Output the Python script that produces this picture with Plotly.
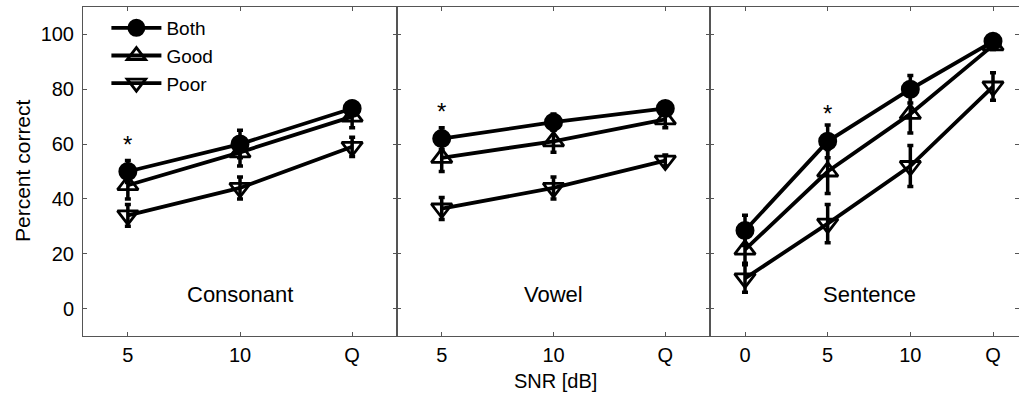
import plotly.graph_objects as go

# ---- data ----
snr_cv = ["5", "10", "Q"]
snr_s = ["0", "5", "10", "Q"]

cons_both = [50, 60, 73]
cons_both_err = [4, 5, 2.5]
cons_good = [45, 57, 70]
cons_good_err = [5, 5, 4]
cons_poor = [34, 44, 59]
cons_poor_err = [4, 4, 3.5]

vow_both = [62, 68, 73]
vow_both_err = [4, 3, 2]
vow_good = [55, 61, 69]
vow_good_err = [5, 4, 3]
vow_poor = [36.5, 44, 54]
vow_poor_err = [4, 4, 2]

sen_both = [28.5, 61, 80, 97.5]
sen_both_err = [5.5, 6, 5, 1.5]
sen_good = [21.5, 50, 71, 96]
sen_good_err = [5, 8, 7, 1.5]
sen_poor = [11, 31, 52, 81]
sen_poor_err = [5, 7, 7.5, 5]

series_names = ["Both", "Good", "Poor"]
panel_names = ["Consonant", "Vowel", "Sentence"]
star_idx = [0, 0, 1]          # category index of the "5 dB" condition
star_y = [60, 72, 71]

FONT = "Liberation Sans, Arial, sans-serif"
styles = {
    "Both": dict(symbol="circle", size=17, color="black", line=dict(color="black", width=2)),
    "Good": dict(symbol="triangle-up-open", size=18, color="black", line=dict(color="black", width=2.8)),
    "Poor": dict(symbol="triangle-down-open", size=18, color="black", line=dict(color="black", width=2.8)),
}

fig = go.Figure()

panels = [
    (snr_cv, [(cons_both, cons_both_err), (cons_good, cons_good_err), (cons_poor, cons_poor_err)]),
    (snr_cv, [(vow_both, vow_both_err), (vow_good, vow_good_err), (vow_poor, vow_poor_err)]),
    (snr_s, [(sen_both, sen_both_err), (sen_good, sen_good_err), (sen_poor, sen_poor_err)]),
]

for p, (xs, sers) in enumerate(panels):
    xa = "x" if p == 0 else f"x{p+1}"
    ya = "y" if p == 0 else f"y{p+1}"
    for name, (vals, errs) in reversed(list(zip(series_names, sers))):
        fig.add_trace(go.Scatter(
            x=xs, y=vals, xaxis=xa, yaxis=ya, name=name,
            mode="lines+markers",
            line=dict(color="black", width=3.8),
            marker=styles[name],
            error_y=dict(type="data", array=errs, visible=True, color="black", thickness=3.5, width=3),
            showlegend=(p == 0), legendrank={"Both": 1, "Good": 2, "Poor": 3}[name],
        ))

L, T, B = 83, 7, 61
W, H = 1019, 397
pw = W - L
d1 = (397 - L) / pw
d2 = (710 - L) / pw

common_x = dict(type="category", showline=True, linecolor="#555", linewidth=1, mirror="ticks",
                ticks="inside", ticklen=4, tickcolor="#555", showgrid=False, zeroline=False,
                tickfont=dict(family=FONT, size=20, color="black"), ticklabelstandoff=1)
common_y = dict(range=[-10, 110], tickvals=[0, 20, 40, 60, 80, 100], showline=True, linecolor="#555",
                linewidth=1, mirror="ticks", ticks="inside", ticklen=4, tickcolor="#555",
                showgrid=False, zeroline=False, tickfont=dict(family=FONT, size=20, color="black"),
                ticklabelstandoff=4)

fig.update_layout(
    width=W, height=H, margin=dict(l=L, r=0, t=T, b=B),
    plot_bgcolor="white", paper_bgcolor="white",
    font=dict(family=FONT, size=20, color="black"),
    xaxis=dict(domain=[0, d1], range=[-0.4, 2.4], categoryarray=snr_cv, **common_x),
    xaxis2=dict(domain=[d1, d2], range=[-0.4, 2.4], categoryarray=snr_cv, anchor="y2", **common_x),
    xaxis3=dict(domain=[d2, 1], range=[-0.4234, 3.3145], categoryarray=snr_s, anchor="y3", **common_x),
    yaxis=dict(anchor="x", **common_y),
    yaxis2=dict(anchor="x2", showticklabels=False, **common_y),
    yaxis3=dict(anchor="x3", showticklabels=False, **common_y),
    legend=dict(x=0.025, y=0.994, xanchor="left", yanchor="top", bgcolor="rgba(0,0,0,0)",
                font=dict(family=FONT, size=19), itemwidth=50, tracegroupgap=0),
    showlegend=True,
)

label_x = [1, 1, 1.5]
for p in range(3):
    xr = "x" if p == 0 else f"x{p+1}"
    yr = "y" if p == 0 else f"y{p+1}"
    fig.add_annotation(x=label_x[p], y=5, xref=xr, yref=yr, text=panel_names[p], showarrow=False,
                       font=dict(family=FONT, size=22), xanchor="center", yanchor="middle")
    fig.add_annotation(x=star_idx[p], y=star_y[p], xref=xr, yref=yr, text="*", showarrow=False,
                       font=dict(family=FONT, size=24), xanchor="center", yanchor="middle")

fig.add_annotation(x=(555 - L) / pw, y=-(381 - (H - B)) / (H - T - B), xref="paper", yref="paper",
                   text="SNR [dB]", showarrow=False, font=dict(family=FONT, size=20),
                   xanchor="center", yanchor="middle")
fig.add_annotation(x=(22 - L) / pw, y=(H - B - 170) / (H - T - B), xref="paper", yref="paper",
                   text="Percent correct", textangle=-90, showarrow=False,
                   font=dict(family=FONT, size=21), xanchor="center", yanchor="middle")

fig.write_html("out.html")
